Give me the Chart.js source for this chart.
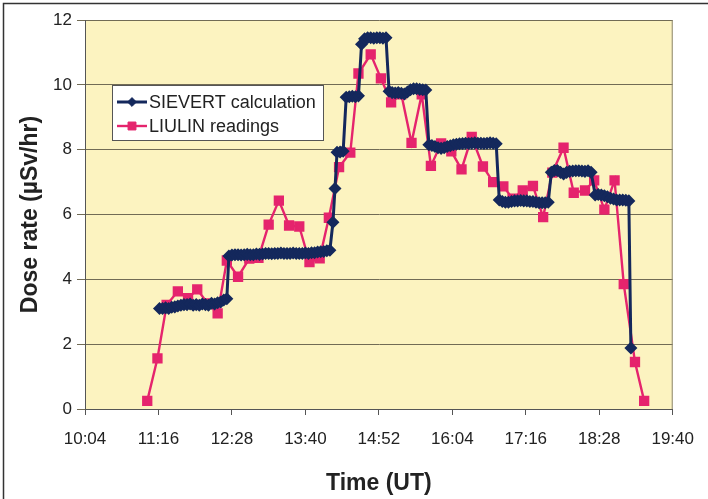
<!DOCTYPE html>
<html>
<head>
<meta charset="utf-8">
<script src="https://cdn.jsdelivr.net/npm/chart.js@4.4.1/dist/chart.umd.min.js"></script>
<style>
  html, body { margin: 0; padding: 0; background: #fff; }
  #wrap { width: 708px; height: 499px; }
</style>
</head>
<body>
<div id="wrap"><canvas id="chart" width="708" height="499"></canvas></div>
<script>
const seriesNames = ['SIEVERT calculation', 'LIULIN readings'];

// times are minutes after 00:00 UT
const sievertTimes = [
  677, 680, 683, 686, 689, 692, 695, 698, 701, 704, 707, 710, 713, 716, 719, 722, 725, 728, 731, 734, 737, 740, 743,
  745, 748, 751, 754, 757, 760, 763, 766, 769, 772, 775, 778, 781, 784, 787, 790, 793, 796, 799, 802, 805, 808, 811,
  814, 817, 820, 823, 826, 829, 832, 835, 838, 841, 844,
  847, 849, 851, 854, 857, 860, 863, 866, 869, 872, 875, 878, 881, 884, 887, 890, 893, 896, 899,
  902, 905, 908, 911, 914, 917, 920, 923, 926, 929, 932, 935, 938,
  941, 944, 947, 950, 953, 956, 959, 962, 965, 968, 971, 974, 977, 980, 983, 986, 989, 992, 995, 998, 1001, 1004, 1007,
  1010, 1013, 1016, 1019, 1022, 1025, 1028, 1031, 1034, 1037, 1040, 1043, 1046, 1049, 1052, 1055, 1058,
  1061, 1064, 1067, 1070, 1073, 1076, 1079, 1082, 1085, 1088, 1091, 1094, 1097, 1100,
  1104, 1107, 1110, 1113, 1116, 1119, 1122, 1125, 1128, 1131, 1134, 1137, 1139
];
const sievertValues = [
  3.10, 3.10, 3.12, 3.10, 3.14, 3.15, 3.18, 3.20, 3.22, 3.22, 3.24, 3.20, 3.22, 3.20, 3.24, 3.22, 3.20, 3.26, 3.24, 3.28, 3.30, 3.36, 3.40,
  4.72, 4.75, 4.76, 4.76, 4.75, 4.76, 4.77, 4.76, 4.76, 4.78, 4.77, 4.78, 4.80, 4.80, 4.79, 4.80, 4.80, 4.81, 4.80, 4.80, 4.80, 4.81, 4.80,
  4.80, 4.80, 4.81, 4.80, 4.82, 4.82, 4.84, 4.85, 4.86, 4.88, 4.90,
  5.76, 6.80, 7.92, 7.93, 7.95, 9.62, 9.63, 9.65, 9.63, 9.66, 11.25, 11.42, 11.45, 11.45, 11.44, 11.45, 11.45, 11.44, 11.45,
  9.80, 9.76, 9.75, 9.76, 9.74, 9.72, 9.78, 9.85, 9.88, 9.88, 9.86, 9.85, 9.84,
  8.15, 8.13, 8.10, 8.06, 8.04, 8.06, 8.10, 8.12, 8.15, 8.17, 8.18, 8.19, 8.20, 8.19, 8.20, 8.21, 8.20, 8.20, 8.19, 8.20, 8.21, 8.20, 8.18,
  6.45, 6.40, 6.38, 6.38, 6.40, 6.42, 6.42, 6.43, 6.42, 6.42, 6.40, 6.40, 6.38, 6.36, 6.36, 6.36, 6.38,
  7.30, 7.36, 7.36, 7.30, 7.25, 7.30, 7.33, 7.34, 7.35, 7.35, 7.34, 7.33, 7.35, 7.30,
  6.60, 6.62, 6.60, 6.58, 6.55, 6.50, 6.48, 6.45, 6.45, 6.45, 6.44, 6.42, 1.88
];

const liulinTimes = [
  665, 675, 684, 695, 705, 714, 724, 734, 743, 754, 765, 774, 784, 794, 804, 814, 824, 834, 843, 853,
  864, 872, 884, 894, 904, 914, 924, 934, 943, 953, 963, 973, 983, 994, 1004, 1014, 1023, 1033, 1043, 1053,
  1062, 1073, 1083, 1094, 1103, 1113, 1123, 1132, 1143, 1152
];
const liulinValues = [
  0.25, 1.56, 3.21, 3.63, 3.42, 3.69, 3.26, 2.95, 4.58, 4.08, 4.64, 4.66, 5.69, 6.43, 5.66, 5.63, 4.53, 4.65, 5.90, 7.46,
  7.91, 10.35, 10.94, 10.20, 9.46, 9.71, 8.21, 9.71, 7.50, 8.19, 7.95, 7.39, 8.39, 7.48, 7.00, 6.87, 6.49, 6.74, 6.88, 5.92,
  7.29, 8.06, 6.67, 6.74, 7.05, 6.15, 7.05, 3.85, 1.45, 0.25
];

const xTickLabels = ['10:04', '11:16', '12:28', '13:40', '14:52', '16:04', '17:16', '18:28', '19:40'];
const yTickLabels = ['0', '2', '4', '6', '8', '10', '12'];

const navy = '#14285c';
const pink = '#e5246d';

// paper, plot fill and outer frame
const paper = {
  id: 'paper',
  beforeDraw(chart) {
    const { ctx, chartArea: a } = chart;
    ctx.save();
    ctx.fillStyle = '#fff';
    ctx.fillRect(0, 0, chart.width, chart.height);
    ctx.fillStyle = '#fcf3c0';
    ctx.fillRect(a.left, a.top, a.right - a.left, a.bottom - a.top);
    ctx.strokeStyle = '#333';
    ctx.lineWidth = 1.5;
    ctx.beginPath();
    ctx.moveTo(3.5, chart.height);
    ctx.lineTo(3.5, 3.5);
    ctx.lineTo(chart.width, 3.5);
    ctx.stroke();
    ctx.restore();
  },
  beforeDatasetsDraw(chart) {
    const { ctx, chartArea: a } = chart;
    ctx.save();
    ctx.strokeStyle = '#8a8470';
    ctx.lineWidth = 1;
    ctx.beginPath();
    ctx.moveTo(a.right - 0.5, a.top);
    ctx.lineTo(a.right - 0.5, a.bottom);
    ctx.stroke();
    ctx.restore();
  }
};

// legend box inside the plot
const boxLegend = {
  id: 'boxLegend',
  afterDraw(chart) {
    const { ctx } = chart;
    const x = 112, y = 85, w = 211, h = 55;
    ctx.save();
    ctx.fillStyle = '#fff';
    ctx.fillRect(x, y, w, h);
    ctx.strokeStyle = '#555';
    ctx.lineWidth = 1;
    ctx.strokeRect(x + 0.5, y + 0.5, w, h);
    chart.data.datasets.forEach((ds, i) => {
      const ly = y + 17 + i * 24;
      ctx.strokeStyle = ds.borderColor;
      ctx.lineWidth = ds.borderWidth;
      ctx.beginPath();
      ctx.moveTo(x + 5, ly);
      ctx.lineTo(x + 35, ly);
      ctx.stroke();
      ctx.fillStyle = ds.pointBackgroundColor;
      ctx.strokeStyle = ds.pointBorderColor;
      ctx.lineWidth = 1;
      Chart.helpers.drawPoint(ctx, { pointStyle: ds.pointStyle, radius: ds.pointRadius, rotation: 0, borderWidth: 1 }, x + 20, ly);
      ctx.fillStyle = '#222';
      ctx.font = '18px "Liberation Sans", Arial, sans-serif';
      ctx.textBaseline = 'middle';
      ctx.fillText(ds.label, x + 37, ly + 1);
    });
    ctx.restore();
  }
};

new Chart(document.getElementById('chart'), {
  type: 'line',
  data: {
    datasets: [
      {
        label: seriesNames[0],
        data: sievertTimes.map((t, i) => ({ x: t, y: sievertValues[i] })),
        borderColor: navy,
        borderWidth: 3,
        pointStyle: 'rectRot',
        pointRadius: 4.4,
        pointBackgroundColor: navy,
        pointBorderColor: navy,
        tension: 0
      },
      {
        label: seriesNames[1],
        data: liulinTimes.map((t, i) => ({ x: t, y: liulinValues[i] })),
        borderColor: pink,
        borderWidth: 2.4,
        pointStyle: 'rect',
        pointRadius: 5.6,
        pointBackgroundColor: pink,
        pointBorderColor: pink,
        tension: 0
      }
    ]
  },
  options: {
    responsive: false,
    animation: false,
    layout: { padding: { top: 20, right: 26, bottom: 0, left: 0 } },
    plugins: { legend: { display: false }, tooltip: { enabled: false } },
    scales: {
      x: {
        type: 'linear',
        min: 604,
        max: 1180,
        afterFit(scale) { scale.height = 90; },
        ticks: {
          stepSize: 72,
          autoSkip: false,
          maxRotation: 0,
          padding: 14,
          color: '#222',
          font: { family: '"Liberation Sans", Arial, sans-serif', size: 17 },
          callback: (v, i) => xTickLabels[i]
        },
        grid: { drawOnChartArea: false, drawTicks: true, tickLength: 6, color: '#555' },
        border: { color: '#555', width: 1 },
        title: {
          display: true,
          text: 'Time (UT)',
          color: '#222',
          padding: { top: 0, bottom: 2 },
          font: { family: '"Liberation Sans", Arial, sans-serif', size: 23, weight: 'bold' }
        }
      },
      y: {
        min: 0,
        max: 12,
        afterFit(scale) { scale.width = 85; },
        ticks: {
          stepSize: 2,
          padding: 5,
          color: '#222',
          font: { family: '"Liberation Sans", Arial, sans-serif', size: 17 },
          callback: (v, i) => yTickLabels[i]
        },
        grid: { color: '#716b55', lineWidth: 1, tickLength: 8 },
        border: { color: '#555', width: 1 },
        title: {
          display: true,
          text: 'Dose rate (µSv/hr)',
          color: '#222',
          padding: { top: 17, bottom: 0 },
          font: { family: '"Liberation Sans", Arial, sans-serif', size: 23, weight: 'bold' }
        }
      }
    }
  },
  plugins: [paper, boxLegend]
});
</script>
</body>
</html>
